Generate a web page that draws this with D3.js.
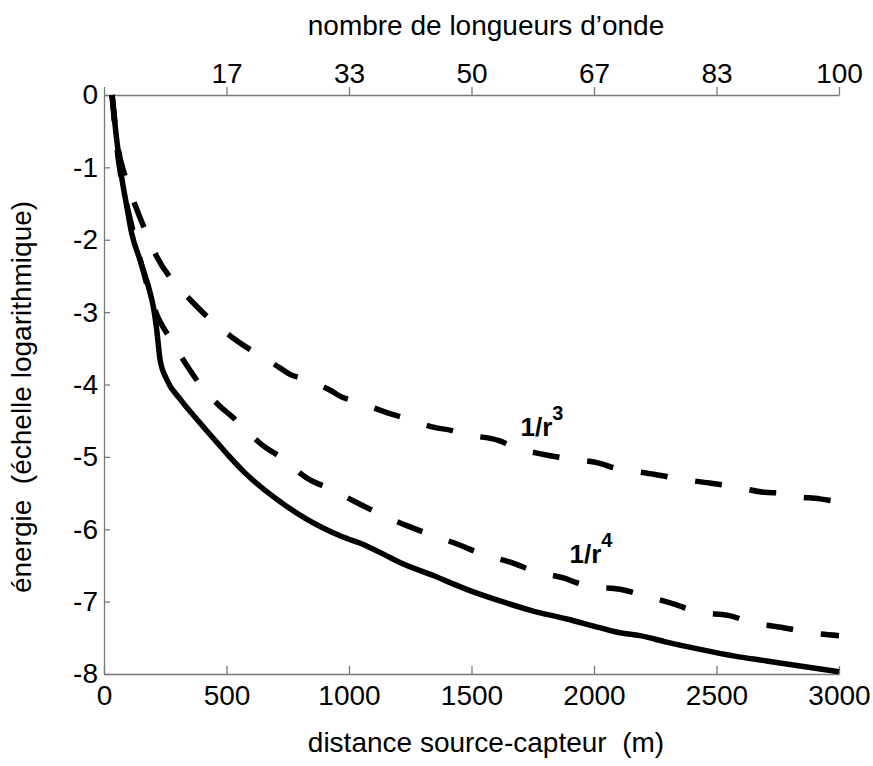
<!DOCTYPE html>
<html>
<head>
<meta charset="utf-8">
<script src="https://cdn.jsdelivr.net/npm/d3@7/dist/d3.min.js"></script>
<style>
  html, body { margin: 0; padding: 0; background: #fff; }
  svg text { font-family: "Liberation Sans", Arial, sans-serif; }
</style>
</head>
<body>
<svg id="chart" width="873" height="766"></svg>
<script>
// Distance ticks (m) on the bottom axis and matching wavelength counts on the top axis
const distTicks = [0, 500, 1000, 1500, 2000, 2500, 3000];
const waveLabels = ["", "17", "33", "50", "67", "83", "100"];
const energyTicks = [0, -1, -2, -3, -4, -5, -6, -7, -8];

// Measured energy decay (solid line)
const measDist = [33, 52, 72, 93, 113, 147, 188, 201, 215, 229, 256, 310, 371, 430, 500, 569, 691, 827, 963, 1072, 1167, 1208, 1344, 1480, 1616, 1752, 1889, 2024, 2106, 2188, 2297, 2433, 2569, 2705, 2841, 3000];
const measEnergy = [0, -0.62, -1.13, -1.54, -1.91, -2.28, -2.73, -2.92, -3.24, -3.66, -3.93, -4.2, -4.45, -4.68, -4.95, -5.2, -5.55, -5.86, -6.09, -6.23, -6.39, -6.46, -6.64, -6.83, -6.99, -7.13, -7.24, -7.36, -7.43, -7.47, -7.56, -7.66, -7.75, -7.82, -7.89, -7.97];

// 1/r^3 reference curve (dashed)
const r3Dist = [33, 57, 86, 127, 167, 215, 276, 358, 433, 528, 616, 718, 759, 813, 929, 963, 1024, 1140, 1242, 1358, 1412, 1460, 1616, 1678, 1800, 1902, 2024, 2079, 2131, 2245, 2358, 2471, 2585, 2698, 2759, 2811, 2922, 3000];
const r3Energy = [0, -0.72, -1.12, -1.52, -1.86, -2.23, -2.55, -2.85, -3.1, -3.36, -3.56, -3.77, -3.86, -3.92, -4.09, -4.16, -4.23, -4.37, -4.48, -4.6, -4.63, -4.68, -4.78, -4.87, -4.97, -5.03, -5.09, -5.15, -5.18, -5.24, -5.31, -5.36, -5.42, -5.49, -5.5, -5.54, -5.58, -5.62];

// 1/r^4 reference curve (dashed)
const r4Dist = [33, 57, 86, 120, 150, 180, 215, 269, 331, 392, 473, 528, 555, 644, 732, 827, 929, 1031, 1127, 1236, 1338, 1446, 1548, 1664, 1766, 1882, 1922, 1990, 2106, 2208, 2324, 2433, 2548, 2657, 2773, 2882, 3000];
const r4Energy = [0, -0.85, -1.4, -1.9, -2.3, -2.68, -3.03, -3.36, -3.7, -4.0, -4.3, -4.46, -4.55, -4.83, -5.03, -5.29, -5.45, -5.63, -5.79, -5.95, -6.08, -6.21, -6.35, -6.46, -6.59, -6.68, -6.73, -6.79, -6.83, -6.92, -7.03, -7.15, -7.19, -7.3, -7.36, -7.43, -7.47];

const svg = d3.select("#chart");
const FONT = 28;
const AXIS_GREY = "#7a7a7a";

const x = d3.scaleLinear().domain([0, 3000]).range([104, 839]);
const y = d3.scaleLinear().domain([0, -8]).range([95, 674]);

function styleAxis(g) {
  g.select(".domain").attr("stroke", AXIS_GREY).attr("stroke-width", 1.3);
  g.selectAll(".tick line").attr("stroke", AXIS_GREY).attr("stroke-width", 1.3);
  g.selectAll(".tick text").attr("fill", "#000").style("font-size", FONT + "px")
    .style("font-family", '"Liberation Sans", Arial, sans-serif');
}

// bottom axis: distance
svg.append("g")
  .attr("transform", `translate(0,${y(-8)})`)
  .call(d3.axisBottom(x).tickValues(distTicks).tickFormat(d => String(d))
        .tickSizeInner(-8).tickSizeOuter(0).tickPadding(11))
  .call(styleAxis);

// top axis: number of wavelengths
svg.append("g")
  .attr("transform", `translate(0,${y(0)})`)
  .call(d3.axisTop(x).tickValues(distTicks).tickFormat((d, i) => waveLabels[i])
        .tickSizeInner(8).tickSizeOuter(0).tickPadding(4))
  .call(styleAxis);

// left axis: energy (log scale)
svg.append("g")
  .attr("transform", `translate(${x(0)},0)`)
  .call(d3.axisLeft(y).tickValues(energyTicks).tickFormat(d => String(d))
        .tickSizeInner(-6).tickSizeOuter(0).tickPadding(6))
  .call(styleAxis);

// axis titles
svg.append("text")
  .attr("x", 486).attr("y", 35)
  .attr("text-anchor", "middle")
  .style("font-size", FONT + "px")
  .text("nombre de longueurs d’onde");

svg.append("text")
  .attr("x", 486).attr("y", 752)
  .attr("text-anchor", "middle")
  .style("font-size", FONT + "px")
  .style("white-space", "pre")
  .text("distance source-capteur  (m)");

svg.append("text")
  .attr("transform", "translate(31,397) rotate(-90)")
  .attr("text-anchor", "middle")
  .style("font-size", FONT + "px")
  .style("white-space", "pre")
  .text("énergie  (échelle logarithmique)");

// curves
const line = d3.line().x(d => x(d[0])).y(d => y(d[1])).curve(d3.curveMonotoneX);
const zip = (a, b) => a.map((v, i) => [v, b[i]]);

const curves = svg.append("g").attr("fill", "none").attr("stroke", "#000")
  .attr("stroke-width", 5.5).attr("stroke-linejoin", "round");

curves.append("path").datum(zip(r3Dist, r3Energy))
  .attr("d", line).attr("stroke-dasharray", "27,28");
curves.append("path").datum(zip(r4Dist, r4Energy))
  .attr("d", line).attr("stroke-dasharray", "27,28");
curves.append("path").datum(zip(measDist, measEnergy))
  .attr("d", line);

// curve annotations
function powerLabel(px, py, exp) {
  const t = svg.append("text").attr("x", px).attr("y", py)
    .style("font-size", "26px").style("font-weight", "bold");
  t.append("tspan").text("1/r");
  t.append("tspan").attr("dy", -16).style("font-size", "20px").text(exp);
}
powerLabel(x(1700), 436, "3");
powerLabel(x(1900), 563, "4");
</script>
</body>
</html>
